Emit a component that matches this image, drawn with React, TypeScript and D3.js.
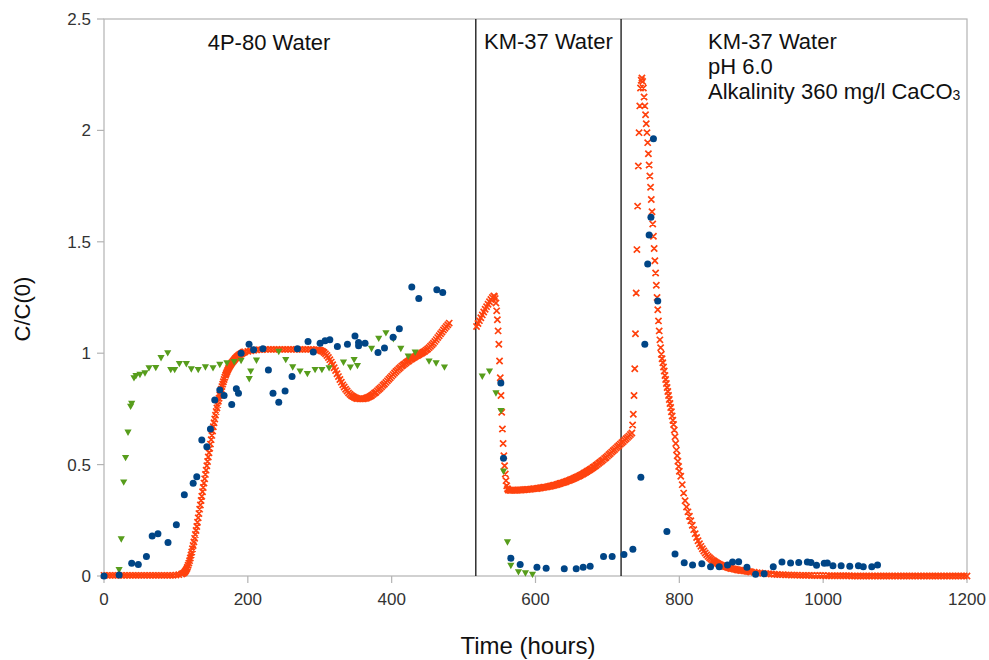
import React from 'react'
import * as d3 from 'd3'

// tick values
const xTicks = [0, 200, 400, 600, 800, 1000, 1200]
const yTicks = [0, 0.5, 1, 1.5, 2, 2.5]

// hours where the feed water was switched
const dividers = [517, 719]

// measured C/C(0), blue dots  [hours, value]
const measuredA: [number, number][] = [
  [0, 0], [21, 0.005], [38.5, 0.057], [47.7, 0.052], [59, 0.087], [67, 0.18], [75, 0.19], [89, 0.15],
  [100.6, 0.23], [111.7, 0.365], [124, 0.416], [129, 0.446], [136, 0.61], [143, 0.58], [148, 0.66],
  [154, 0.79], [161, 0.835], [167, 0.81], [177.6, 0.77], [184, 0.84], [187, 0.82], [190.6, 1.0],
  [201.7, 1.04], [208, 1.015], [221, 1.02], [228.6, 0.925], [235, 0.82], [243, 0.78], [251.8, 0.83],
  [261.5, 0.895], [269, 1.02], [283.7, 1.053], [291, 1.005], [300.5, 1.045], [307.4, 1.056], [314, 1.06],
  [324.5, 1.03], [338.5, 1.04], [349, 1.077], [354, 1.048], [354, 1.033], [363, 1.045], [381, 1.003],
  [390, 1.023], [402, 1.072], [410.7, 1.11], [428, 1.297], [437.7, 1.246], [462.8, 1.285], [471, 1.273],
  [551.8, 0.866], [555.5, 0.529], [565.7, 0.08], [578.7, 0.052], [602, 0.039], [614.8, 0.035], [640, 0.033],
  [656.6, 0.033], [666.3, 0.039], [676, 0.044], [694.6, 0.087], [706.6, 0.087], [723, 0.096], [735.4, 0.12],
  [746.5, 0.443], [752, 1.04], [756, 1.4], [758, 1.53], [760.5, 1.61], [764, 1.962], [770, 1.234],
  [782.7, 0.2], [794, 0.099], [806.8, 0.06], [818.4, 0.049], [831.3, 0.055], [843.4, 0.042], [855.5, 0.042],
  [867, 0.049], [874, 0.063], [882.5, 0.064], [894, 0.039], [906, 0.008], [918, 0.01], [930.6, 0.042],
  [942.7, 0.063], [954.7, 0.058], [966, 0.061], [978, 0.063], [983, 0.061], [990.8, 0.048], [1001.5, 0.057],
  [1005.8, 0.058], [1013.6, 0.046], [1025, 0.046], [1037, 0.044], [1049, 0.046], [1055.8, 0.042],
  [1067.6, 0.042], [1075.6, 0.049],
]

// measured C/C(0), green triangles  [hours, value]
const measuredB: [number, number][] = [
  [21, 0.027], [24, 0.165], [27.4, 0.42], [30, 0.53], [33.4, 0.644], [37, 0.76], [38.5, 0.773],
  [41.7, 0.888], [44.5, 0.898], [50, 0.903], [57, 0.91], [62.6, 0.933], [72, 0.934], [79.3, 0.978],
  [88.6, 1.0], [92.8, 0.925], [98.3, 0.925], [104.8, 0.952], [114.5, 0.951], [121.4, 0.928], [131, 0.925],
  [141, 0.937], [151.6, 0.933], [161, 0.948], [171, 0.955], [181, 0.96], [190.6, 0.966], [202, 0.884],
  [204, 0.918], [212, 0.967], [243, 1.006], [252.7, 0.97], [262.4, 0.937], [272.6, 0.918], [282.8, 0.907],
  [293.5, 0.925], [303, 0.925], [313, 0.933], [333, 0.958], [342.6, 0.936], [347.8, 0.97], [352.4, 0.943],
  [372, 1.02], [382, 1.065], [392, 1.09], [402.4, 1.063], [412.7, 1.02], [423, 0.985], [432.7, 1.003],
  [452, 0.963], [461.8, 0.955], [473.4, 0.936],
  [526, 0.895], [536, 0.918], [545, 0.82], [552, 0.741], [555.5, 0.469], [561, 0.151], [565.7, 0.046],
  [576.3, 0.017], [586, 0.012], [595.8, 0.006],
]

// model output (orange x markers), sampled every `step` hours from `start`
const modelA1 = [
  0.003, 0.003, 0.003, 0.003, 0.003, 0.003, 0.003, 0.003, 0.003, 0.003,
  0.003, 0.003, 0.003, 0.003, 0.003, 0.003, 0.003, 0.003, 0.003, 0.003,
  0.003, 0.003, 0.003, 0.003, 0.003, 0.004, 0.006, 0.009,
]
const modelA2 = [
  0.012, 0.014, 0.017, 0.021, 0.026, 0.032, 0.039, 0.048, 0.058, 0.069,
  0.081, 0.094, 0.108, 0.122, 0.137, 0.153, 0.169, 0.186, 0.204, 0.222,
  0.241, 0.261, 0.28, 0.3, 0.319, 0.339, 0.358, 0.378, 0.397, 0.417,
  0.436, 0.456, 0.475, 0.495, 0.514, 0.534, 0.553, 0.573, 0.592, 0.612,
  0.631, 0.651, 0.67, 0.688, 0.705, 0.722, 0.738, 0.754, 0.769, 0.784,
  0.798, 0.812, 0.825, 0.838, 0.85, 0.861, 0.872, 0.882, 0.892, 0.901,
  0.909, 0.917, 0.924, 0.931, 0.937, 0.943, 0.948, 0.953, 0.958, 0.962,
  0.966, 0.97, 0.974, 0.978, 0.981, 0.984, 0.987, 0.99, 0.992, 0.994,
  0.996, 0.998, 1.0, 1.002, 1.004, 1.005, 1.006,
]
const modelA3 = [
  1.008, 1.011, 1.013, 1.015,
  1.016, 1.016, 1.017, 1.017, 1.017, 1.017, 1.017, 1.017, 1.017, 1.017, 1.017,
  1.017, 1.017, 1.017, 1.017, 1.017, 1.017, 1.017, 1.017, 1.016, 1.016,
]
const modelA4 = [
  1.015, 1.014, 1.011, 1.008, 1.003, 0.997, 0.99, 0.981, 0.971, 0.96,
  0.948, 0.935, 0.922, 0.908, 0.895, 0.882, 0.87, 0.858, 0.848, 0.838,
  0.83, 0.822, 0.816, 0.81, 0.806, 0.802, 0.799, 0.797, 0.796, 0.795,
  0.795, 0.795, 0.796, 0.798, 0.8, 0.803, 0.806, 0.81, 0.815, 0.82,
  0.825, 0.831, 0.837, 0.843, 0.849, 0.856, 0.862, 0.869, 0.876, 0.883,
  0.89, 0.897, 0.904, 0.911, 0.918, 0.924, 0.93, 0.936, 0.942, 0.947,
  0.952, 0.957, 0.962, 0.966, 0.971, 0.975, 0.979, 0.983, 0.987, 0.99,
  0.994, 0.997, 1.001, 1.005, 1.009, 1.014, 1.019, 1.025, 1.031, 1.038,
  1.045, 1.053, 1.061, 1.07, 1.078, 1.087, 1.095, 1.104, 1.112, 1.12,
  1.128, 1.135,
]
const modelB1 = [1.12, 1.133, 1.146, 1.159, 1.172, 1.185, 1.197, 1.209, 1.22, 1.231, 1.241, 1.25, 1.257]
const modelB2 = [
  1.255, 1.245, 1.225, 1.19, 1.15, 1.1, 1.04, 0.965, 0.89, 0.81,
  0.735, 0.66, 0.595, 0.54, 0.495, 0.458, 0.428, 0.405, 0.392, 0.386,
]
const modelB3 = [
  0.385, 0.385, 0.385, 0.385, 0.385, 0.385, 0.386, 0.386, 0.386, 0.387,
  0.387, 0.388, 0.388, 0.389, 0.389, 0.39, 0.391, 0.392, 0.392, 0.393,
  0.394, 0.395, 0.396, 0.397, 0.398, 0.399, 0.4, 0.402, 0.403, 0.404,
  0.406, 0.407, 0.409, 0.411, 0.413, 0.415, 0.417, 0.419, 0.421, 0.423,
  0.426, 0.428, 0.431, 0.433, 0.436, 0.439, 0.442, 0.445, 0.448, 0.451,
  0.455, 0.458, 0.462, 0.466, 0.47, 0.474, 0.478, 0.482, 0.487, 0.491,
  0.496, 0.501, 0.506, 0.511, 0.516, 0.521, 0.527, 0.532, 0.538, 0.544,
  0.55, 0.556, 0.562, 0.568, 0.574, 0.58, 0.586, 0.592, 0.598, 0.604,
  0.61, 0.616, 0.622, 0.628, 0.635, 0.642,
]
const modelC1 = [
  0.678, 0.726, 0.81, 0.93, 1.087, 1.27, 1.465, 1.66, 1.84, 1.99,
  2.11, 2.19, 2.225, 2.235, 2.22, 2.19, 2.15, 2.11, 2.07, 2.03,
  1.99, 1.945, 1.895, 1.845, 1.795, 1.745, 1.69, 1.635, 1.58, 1.525,
  1.47, 1.415, 1.36, 1.305, 1.25, 1.195, 1.145, 1.1, 1.06, 1.025,
  0.995, 0.975, 0.957, 0.938, 0.92, 0.9, 0.882, 0.864, 0.846, 0.828,
  0.81, 0.792, 0.774, 0.756, 0.737, 0.718, 0.699, 0.68, 0.655, 0.625,
  0.595, 0.565, 0.54, 0.515, 0.492, 0.47,
]
const modelC2 = [
  0.448, 0.41, 0.372, 0.338, 0.31, 0.288, 0.268, 0.248, 0.228, 0.208,
  0.19, 0.173, 0.158, 0.145, 0.133, 0.122, 0.112, 0.103, 0.095, 0.088,
  0.082, 0.076, 0.071, 0.067, 0.063, 0.059, 0.055, 0.052, 0.049, 0.046,
  0.044, 0.042, 0.04, 0.038, 0.036, 0.034, 0.033, 0.031, 0.03, 0.028,
  0.027, 0.026, 0.025, 0.024, 0.023, 0.022, 0.021, 0.02, 0.019, 0.018,
]
const modelC3 = [
  0.017, 0.015, 0.014, 0.012, 0.011, 0.01, 0.009, 0.008, 0.007, 0.006,
  0.006, 0.005, 0.005, 0.004, 0.004, 0.004, 0.003, 0.003, 0.003, 0.003,
  0.002, 0.002, 0.002, 0.002, 0.002, 0.001, 0.001, 0.001, 0.001, 0.001,
  0.001, 0.001, 0.001, 0.001, 0, 0, 0, 0, 0, 0,
  0, 0, 0, 0, 0, 0, 0, 0, 0, 0,
  0, 0, 0, 0, 0, 0, 0, 0, 0, 0,
  0, 0, 0, 0, 0, 0, 0, 0, 0, 0,
  0, 0, 0, 0, 0,
]

const modelSegments = [
  { start: 0, step: 4, values: modelA1 },
  { start: 110, step: 1, values: modelA2 },
  { start: 200, step: 4, values: modelA3 },
  { start: 298, step: 2, values: modelA4 },
  { start: 518, step: 2, values: modelB1 },
  { start: 543, step: 1, values: modelB2 },
  { start: 564, step: 2, values: modelB3 },
  { start: 735, step: 1, values: modelC1 },
  { start: 802, step: 2, values: modelC2 },
  { start: 904, step: 4, values: modelC3 },
]

const W = 989
const H = 660
const left = 104
const right = 967
const top = 19
const bottom = 576
const font = '"Liberation Sans", Arial, sans-serif'

export default function App() {
  const x = d3.scaleLinear().domain([0, 1200]).range([left, right])
  const y = d3.scaleLinear().domain([0, 2.5]).range([bottom, top])

  const model = modelSegments.flatMap((s) => s.values.map((v, i) => [s.start + i * s.step, v]))

  const k = 3.1
  const crosses = model
    .map(([h, v]) => {
      const cx = x(h), cy = y(v)
      return `M${cx - k},${cy - k}L${cx + k},${cy + k}M${cx - k},${cy + k}L${cx + k},${cy - k}`
    })
    .join('')

  const triangles = measuredB
    .map(([h, v]) => {
      const cx = x(h), cy = y(v)
      return `M${cx - 3.6},${cy - 3}L${cx + 3.6},${cy - 3}L${cx},${cy + 3.4}Z`
    })
    .join('')

  return (
    <div style={{ position: 'absolute', left: 0, top: 0 }}>
      <svg width={W} height={H} style={{ display: 'block', background: '#fff' }} fontFamily={font}>
        <rect x={left} y={top} width={right - left} height={bottom - top} fill="none" stroke="#b3b3b3" strokeWidth={1.2} />

        {yTicks.map((t) => (
          <g key={'y' + t}>
            <line x1={left - 7} x2={left} y1={y(t)} y2={y(t)} stroke="#b3b3b3" strokeWidth={1.2} />
            <text x={left - 13} y={y(t)} dy="0.35em" textAnchor="end" fontSize={17} fill="#333">{t}</text>
          </g>
        ))}
        {xTicks.map((t) => (
          <g key={'x' + t}>
            <line x1={x(t)} x2={x(t)} y1={bottom} y2={bottom + 7} stroke="#b3b3b3" strokeWidth={1.2} />
            <text x={x(t)} y={605} textAnchor="middle" fontSize={17} fill="#333">{t}</text>
          </g>
        ))}

        {dividers.map((d) => (
          <line key={d} x1={x(d)} x2={x(d)} y1={top} y2={bottom} stroke="#111" strokeWidth={1.3} />
        ))}

        <path d={crosses} fill="none" stroke="#ff420e" strokeWidth={1.7} />
        <path d={triangles} fill="#579d1c" />
        {measuredA.map(([h, v], i) => (
          <circle key={i} cx={x(h)} cy={y(v)} r={3.5} fill="#004586" />
        ))}

        <text x={269} y={50} textAnchor="middle" fontSize={22} fill="#111">4P-80 Water</text>
        <text x={484} y={49} fontSize={22} fill="#111">KM-37 Water</text>
        <text x={708} y={49} fontSize={22} fill="#111">KM-37 Water</text>
        <text x={708} y={74} fontSize={22} fill="#111">pH 6.0</text>
        <text x={708} y={99} fontSize={22} fill="#111">
          Alkalinity 360 mg/l CaCO<tspan fontSize={14} dy={1}>3</tspan>
        </text>

        <text transform={`translate(30,309) rotate(-90)`} textAnchor="middle" fontSize={22} fill="#111">C/C(0)</text>
        <text x={528} y={654} textAnchor="middle" fontSize={24} fill="#111">Time (hours)</text>
      </svg>
    </div>
  )
}
